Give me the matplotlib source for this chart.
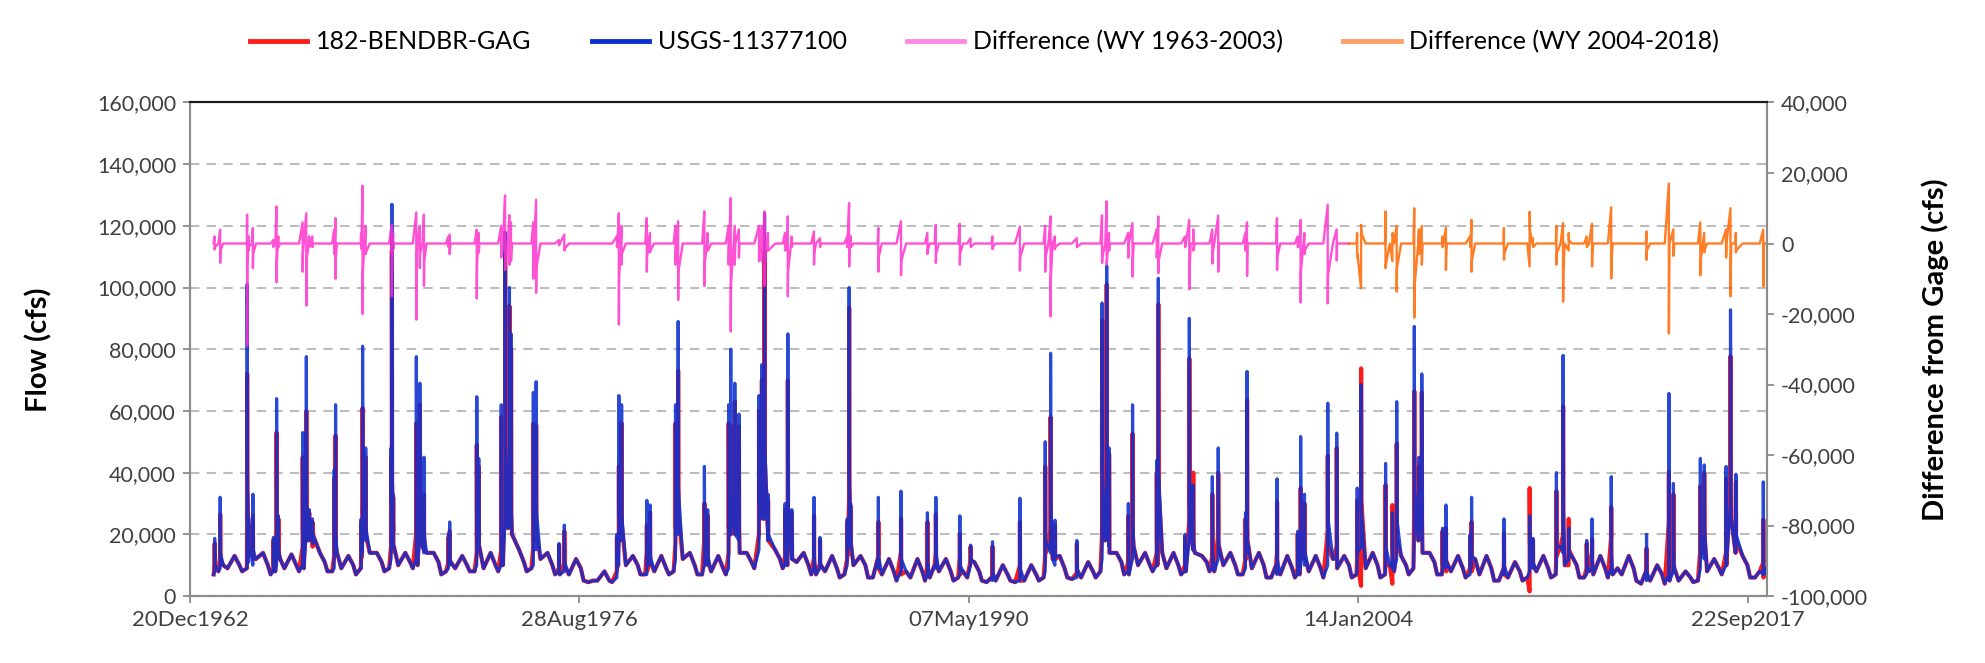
import matplotlib
matplotlib.use("Agg")
import matplotlib.pyplot as plt
from matplotlib.lines import Line2D
from matplotlib.ticker import FuncFormatter
import pandas as pd

plt.rcParams['font.family'] = ['Lato', 'DejaVu Sans']

# ---------------- data (flows in 1000 cfs) ----------------
water_years = list(range(1964, 2019))
# baseline flows read per water year: late Oct, late Dec, late Feb, mid Apr, mid Jul, mid Sep
base_fall   = [7, 8, 7, 8, 8, 7, 8, 9, 7, 8, 8, 8, 7, 5, 4.5, 7, 7, 7, 7, 9, 9, 7, 6, 6, 5, 5, 5, 5, 5, 5, 6, 6, 7, 8, 7, 8, 7, 6, 6, 6, 6, 6, 7, 7, 6, 5, 5, 6, 6, 6, 5, 4, 4.5, 7, 6]
base_winter = [8, 9, 8, 9, 8, 9, 9, 10, 8, 8, 10, 9, 7, 4.5, 5, 7, 8, 7, 10, 14, 10, 7, 7, 6, 6, 6, 6, 4.5, 4.5, 6, 5.5, 8, 7, 10, 8, 8, 7, 6, 7, 7, 7, 7, 9, 7, 6, 5, 6, 7, 6, 7, 4, 5, 5, 10, 6]
base_feb    = [10, 14, 12, 18, 14, 20, 16, 16, 11, 16, 22, 18, 9, 5, 16, 12, 18, 11, 20, 25, 12, 10, 20, 12, 8, 10, 8, 6, 12, 16, 8, 18, 16, 14, 22, 16, 18, 10, 12, 12, 16, 10, 18, 11, 12, 9, 12, 16, 8, 9, 8, 9, 14, 25, 8]
base_spring = [9, 12, 9, 20, 9, 14, 10, 14, 9, 9, 20, 12, 7, 5, 10, 8, 12, 8, 14, 18, 11, 8, 10, 7, 6, 8, 6, 5, 5, 12, 6, 14, 10, 9, 14, 10, 9, 7, 8, 9, 9, 8, 14, 8, 7, 6, 8, 10, 7, 7, 5, 5, 8, 14, 7]
base_summer = [13, 14, 13.5, 14, 13, 14, 14, 14, 13, 14, 15, 14, 12, 8, 13, 13, 14, 13, 14, 15, 14, 13, 13, 12, 12, 12, 11, 10, 10, 13, 11, 14, 14, 14, 13, 14, 14, 13, 13, 13, 14, 13, 14, 13, 13, 11, 13, 13, 13, 13, 10, 8, 12, 13, 12]
base_late   = [10, 10, 10, 11, 10, 11, 11, 11, 10, 10, 11, 10, 9, 5, 10, 9, 10, 9, 11, 12, 10, 9, 10, 8, 8, 8, 8, 7, 7, 9, 8, 11, 10, 10, 11, 10, 10, 9, 9, 10, 10, 10, 11, 9, 9, 8, 9, 10, 9, 9, 7, 6, 9, 10, 9]
base_month_day = ["10-20", "12-20", "02-20", "04-15", "07-15", "09-15"]

# storm events: date of peak, gage flow the day before, gage peak, model peak,
# gage flow three days after, model-minus-gage the day before and three days after
storm_dates = ["1963-11-02", "1964-01-12", "1964-12-23", "1965-01-12", "1965-03-07", "1965-11-25", "1966-01-05", "1966-01-28",
               "1966-12-06", "1967-01-22", "1967-02-28", "1967-04-10", "1968-01-15", "1968-02-01", "1968-12-26", "1969-01-13",
               "1969-02-22", "1970-01-14", "1970-01-24", "1970-02-10", "1970-12-04", "1971-01-18", "1971-03-12", "1972-01-20",
               "1972-02-05", "1973-01-18", "1973-02-12", "1973-11-28", "1974-01-17", "1974-03-13", "1974-04-03", "1975-01-14",
               "1975-02-19", "1975-12-10", "1976-02-16", "1977-12-22", "1978-01-16", "1978-02-20", "1979-01-10", "1979-02-20",
               "1980-01-13", "1980-02-16", "1981-01-18", "1981-03-01", "1981-11-25", "1981-12-22", "1982-02-12", "1982-04-06",
               "1982-12-20", "1983-01-26", "1983-03-01", "1983-04-15", "1983-11-20", "1983-12-25", "1984-02-14", "1984-11-25",
               "1985-02-10", "1986-01-25", "1986-02-19", "1986-03-10", "1987-03-01", "1987-12-17", "1988-11-20", "1989-03-08",
               "1990-01-10", "1990-05-28", "1991-03-05", "1992-02-20", "1993-01-10", "1993-03-20", "1993-05-15", "1994-02-20",
               "1995-01-10", "1995-03-10", "1995-04-10", "1995-12-13", "1996-02-05", "1996-12-12", "1997-01-01", "1997-12-10",
               "1998-02-03", "1998-03-25", "1998-11-25", "1999-02-09", "2000-01-25", "2000-02-14", "2001-03-05", "2001-11-25",
               "2002-01-02", "2002-02-20", "2002-12-16", "2003-04-10", "2003-12-29", "2004-02-17", "2004-12-27", "2005-03-25",
               "2005-05-19", "2005-12-31", "2006-03-01", "2006-04-06", "2006-12-28", "2007-02-10", "2007-12-18", "2008-01-05",
               "2009-02-24", "2010-01-20", "2010-03-03", "2010-12-29", "2011-03-25", "2011-06-05", "2012-01-22", "2012-03-31",
               "2012-12-02", "2014-02-28", "2014-12-12", "2015-02-08", "2016-01-20", "2016-03-10", "2016-12-15", "2017-02-10",
               "2017-04-20", "2018-04-07"]
storm_pre   = [8, 9, 14, 11, 10, 8, 10, 12, 10, 20, 18, 18, 9, 14, 9, 14, 18, 12, 30, 18, 12, 20, 14, 9, 10, 10, 18, 10, 25, 25, 22, 10,
               15, 8, 8, 6, 10, 18, 7, 10, 12, 20, 10, 10, 9, 20, 20, 18, 15, 25, 35, 18, 10, 15, 12, 9, 9, 10, 20, 16, 9, 8, 7, 9,
               7, 10, 5, 5, 8, 14, 10, 6, 12, 25, 16, 8, 12, 10, 20, 8, 18, 15, 9, 12, 9, 14, 7, 7, 10, 10, 10, 12, 9, 16, 9, 9,
               12, 20, 18, 22, 8, 9, 7, 9, 7, 8, 9, 10, 14, 12, 7, 9, 9, 5, 7, 8, 9, 12, 10, 30, 14, 7]
storm_gage  = [18.7, 32, 101, 25, 33, 19, 64, 26, 53, 77.6, 28, 25, 41, 62, 25, 81, 48, 48, 127, 33, 77.6, 69, 45, 20, 24, 64.6, 44.6, 62,
               118, 100, 85, 66, 69.5, 17, 23, 20, 65, 62, 31, 29.5, 62, 89, 42, 28, 62, 80, 69, 59, 65, 75, 124, 33, 30, 85, 28, 32,
               19, 25, 100, 30, 32, 34, 27, 32, 26, 16.5, 17.6, 31.7, 50, 78.7, 24.6, 18, 95, 107, 48, 30, 62, 44, 103, 20, 90, 36,
               38.7, 48, 27, 72.8, 38, 21, 51.7, 33, 62.5, 52.8, 35, 68.5, 43, 27, 63, 87.4, 45, 72, 22, 29.5, 20, 32, 25, 26, 18.7,
               40, 78, 22, 18, 25, 38.7, 20, 65.7, 36.5, 44.6, 42.5, 42, 92.8, 39.5, 37]
storm_model = [17, 26.5, 72, 23, 26, 18, 53, 25, 45, 60, 27, 24, 38, 52, 24, 61, 45, 45, 112, 32, 56, 62, 33, 19, 21, 49, 42, 58,
               110.5, 94, 80, 56, 55.5, 16.5, 21, 19, 42, 56, 23, 27, 56, 73, 30, 26, 56, 55, 63, 55, 60, 70, 112, 31, 28, 70, 27, 26,
               18, 24, 93.5, 29, 24, 25, 24, 26.5, 20, 16, 16, 24, 42, 58, 23, 17, 89.5, 101, 46, 26, 52.6, 40, 94.6, 19, 77, 40,
               33, 40, 25, 63.6, 30.5, 20, 35, 30, 45.5, 48, 31, 73.8, 36, 29.5, 49.4, 66.4, 42, 66, 21, 22, 19, 24, 20.4, 35, 18,
               34, 61.5, 25, 17, 18.5, 28.8, 15.4, 40.2, 33, 35.6, 40, 38, 77.8, 37, 24.8]
storm_post  = [10, 14, 40, 14, 15, 11, 22, 15, 25, 30, 22, 17, 16, 20, 14, 35, 22, 30, 45, 16, 28, 26, 20, 12, 12, 25, 18, 22, 50, 40, 30, 22,
               28, 9, 11, 10, 28, 26, 12, 13, 25, 35, 16, 13, 25, 32, 30, 25, 30, 35, 50, 20, 15, 30, 15, 13, 11, 14, 40, 18, 13, 12, 11, 14,
               10, 12, 8, 9, 18, 30, 13, 9, 40, 45, 22, 13, 25, 20, 40, 11, 40, 18, 15, 20, 14, 28, 12, 11, 20, 15, 25, 22, 14, 28, 16, 13,
               25, 35, 25, 30, 11, 12, 10, 13, 10, 13, 11, 16, 30, 14, 10, 12, 14, 8, 20, 14, 20, 22, 20, 45, 20, 12]
storm_lead  = [2, 3.9, 8.2, 2, 4.4, 1, 10.5, 2, 6, 8.6, 2, 2, 4, 7.2, 3, 16.4, 5, 4, 5.3, 3, 8.8, 5, 8.2, 2, 2.5, 3.9, 3, 5, 13.6, 8, 6, 6,
               12.4, 1, 2.5, 2, 8.6, 5, 7.2, 3, 5, 6.3, 9.1, 3, 5, 12.9, 5, 4, 5, 5, 9.1, 3, 3, 7.7, 2, 3.4, 1.5, 2, 11.5, 2, 4.4, 6.3, 3, 5.3,
               5.6, 1.5, 2, 4.8, 5, 7.7, 2, 1.5, 8, 12, 3, 3, 5.8, 4, 7.7, 2, 6.7, 0, 4, 7.9, 3, 6, 7.2, 2, 6.7, 3, 11, 4, 3, -12.7, 9.1, -5,
               5, 10, 4, 5, 2, 4.4, 2, 6.7, 4.4, -6.5, 1.5, 5, 5.8, -2, 2, 5.6, 10.3, 3.4, 17, 4, 6, 3, 4, 10, 3, 3.9]
storm_trail = [-1, -2, -6, -1, -3, -0.5, -5, -1, -3, -5, -1, -1, -2, -4, -1.5, -8, -2.5, -2, -8, -1.5, -5, -3, -5, -1, -1.5, -6, -2, -3,
               -6, -4, -3, -4, -7, -0.5, -1.5, -1, -10, -3, -4, -2, -3, -8, -6, -2, -3, -12, -3, -2, -3, -3, -6, -2, -2, -8, -1, -3,
               -1, -1, -4, -1, -4, -5, -2, -3, -3, -1, -1, -4, -4, -10, -1, -1, -4, -5, -2, -2, -5, -2, -5, -1, -8, -2, -3, -5, -2, -5,
               -4, -1, -8, -2, -9, -3, -3, 3, -6, 3, -7, -12, -3, -5, -1, -4, -1, -5, -3, 4, -1, -3, -8, 1, -1, -3, -5, -2, -12, -3,
               -5, -2, -3, -8, -2, -6]

split_date = "2003-10-01"
xlim_dates = ["1962-12-20", "2018-05-25"]
tick_dates = ["1962-12-20", "1976-08-28", "1990-05-07", "2004-01-14", "2017-09-22"]
tick_labels = ["20Dec1962", "28Aug1976", "07May1990", "14Jan2004", "22Sep2017"]
flow_ticks = list(range(0, 160001, 20000))
diff_ticks = list(range(-100000, 40001, 20000))

# ---------------- assemble series ----------------
rows = []
windows = []
for d, pre, g, m, post, lead, trail in zip(storm_dates, storm_pre, storm_gage, storm_model,
                                            storm_post, storm_lead, storm_trail):
    t = pd.Timestamp(d)
    rows.append((t - pd.Timedelta(days=1), pre, pre + lead))
    rows.append((t, g, m))
    rows.append((t + pd.Timedelta(days=3), post, post + trail))
    windows.append((t - pd.Timedelta(days=2), t + pd.Timedelta(days=4)))
for i, wy in enumerate(water_years):
    vals = [base_fall[i], base_winter[i], base_feb[i], base_spring[i], base_summer[i], base_late[i]]
    for md, v in zip(base_month_day, vals):
        yr = wy - 1 if int(md[:2]) >= 10 else wy
        t = pd.Timestamp(f"{yr}-{md}")
        if any(a <= t <= b for a, b in windows):
            continue
        rows.append((t, v, v))
df = pd.DataFrame(rows, columns=["date", "gage", "model"]).sort_values("date").reset_index(drop=True)
df["gage"] *= 1000
df["model"] *= 1000
df["diff"] = df["model"] - df["gage"]
split = pd.Timestamp(split_date)
early = df[df["date"] <= split]
late = df[df["date"] >= early["date"].iloc[-1]]

# ---------------- figure ----------------
fig = plt.figure(figsize=(19.85, 6.63), dpi=100)
ax = fig.add_axes([0.0957, 0.101, 0.7945, 0.7444])
ax2 = ax.twinx()

ax.plot(df["date"], df["model"], color="#ff1a1a", lw=3.0, zorder=2)
ax.plot(df["date"], df["gage"], color="#0a2fd0", lw=2.3, alpha=0.88, zorder=3)
ax2.plot(early["date"], early["diff"], color="#ff33cc", lw=1.7, alpha=0.85)
ax2.plot(late["date"], late["diff"], color="#ff6600", lw=1.7, alpha=0.85)

ax.set_xlim(pd.Timestamp(xlim_dates[0]), pd.Timestamp(xlim_dates[1]))
ax.set_ylim(0, 160000)
ax2.set_ylim(-100000, 40000)
ax.set_yticks(flow_ticks)
ax2.set_yticks(diff_ticks)
fmt = FuncFormatter(lambda v, p: f"{v:,.0f}")
ax.yaxis.set_major_formatter(fmt)
ax2.yaxis.set_major_formatter(fmt)
ax.set_xticks([pd.Timestamp(t) for t in tick_dates])
ax.set_xticklabels(tick_labels)

ax.yaxis.grid(True, color="#bdbdbd", linestyle=(0, (4.5, 3.5)), lw=1.5)
ax.set_axisbelow(True)

for a in (ax, ax2):
    for s in ("left", "right", "bottom"):
        a.spines[s].set_color("#8c8c8c")
        a.spines[s].set_linewidth(1.5)
    a.spines["top"].set_color("#1a1a1a")
    a.spines["top"].set_linewidth(1.5)
    a.tick_params(direction="out", length=5, width=1.3, color="#8c8c8c",
                  labelsize=15.5, labelcolor="#404040", pad=5)
ax.tick_params(axis="x", labelsize=16)

ax.set_ylabel("Flow (cfs)", fontsize=21, fontweight="bold", color="black")
ax.yaxis.set_label_coords(-0.0875, 0.5)
ax2.set_ylabel("Difference from Gage (cfs)", fontsize=21, fontweight="bold", color="black")
ax2.yaxis.set_label_coords(1.098, 0.5)

handles = [Line2D([], [], color="#ff1a1a", lw=3.5),
           Line2D([], [], color="#0a2fd0", lw=3.5),
           Line2D([], [], color="#ff88e6", lw=3.5),
           Line2D([], [], color="#ffa066", lw=3.5)]
labels = ["182-BENDBR-GAG", "USGS-11377100", "Difference (WY 1963-2003)", "Difference (WY 2004-2018)"]
fig.legend(handles, labels, loc="center", bbox_to_anchor=(0.496, 0.937), ncol=4, frameon=False,
           fontsize=18, handlelength=2.3, columnspacing=2.4, handletextpad=0.35)

fig.savefig("out.png", dpi=100)
